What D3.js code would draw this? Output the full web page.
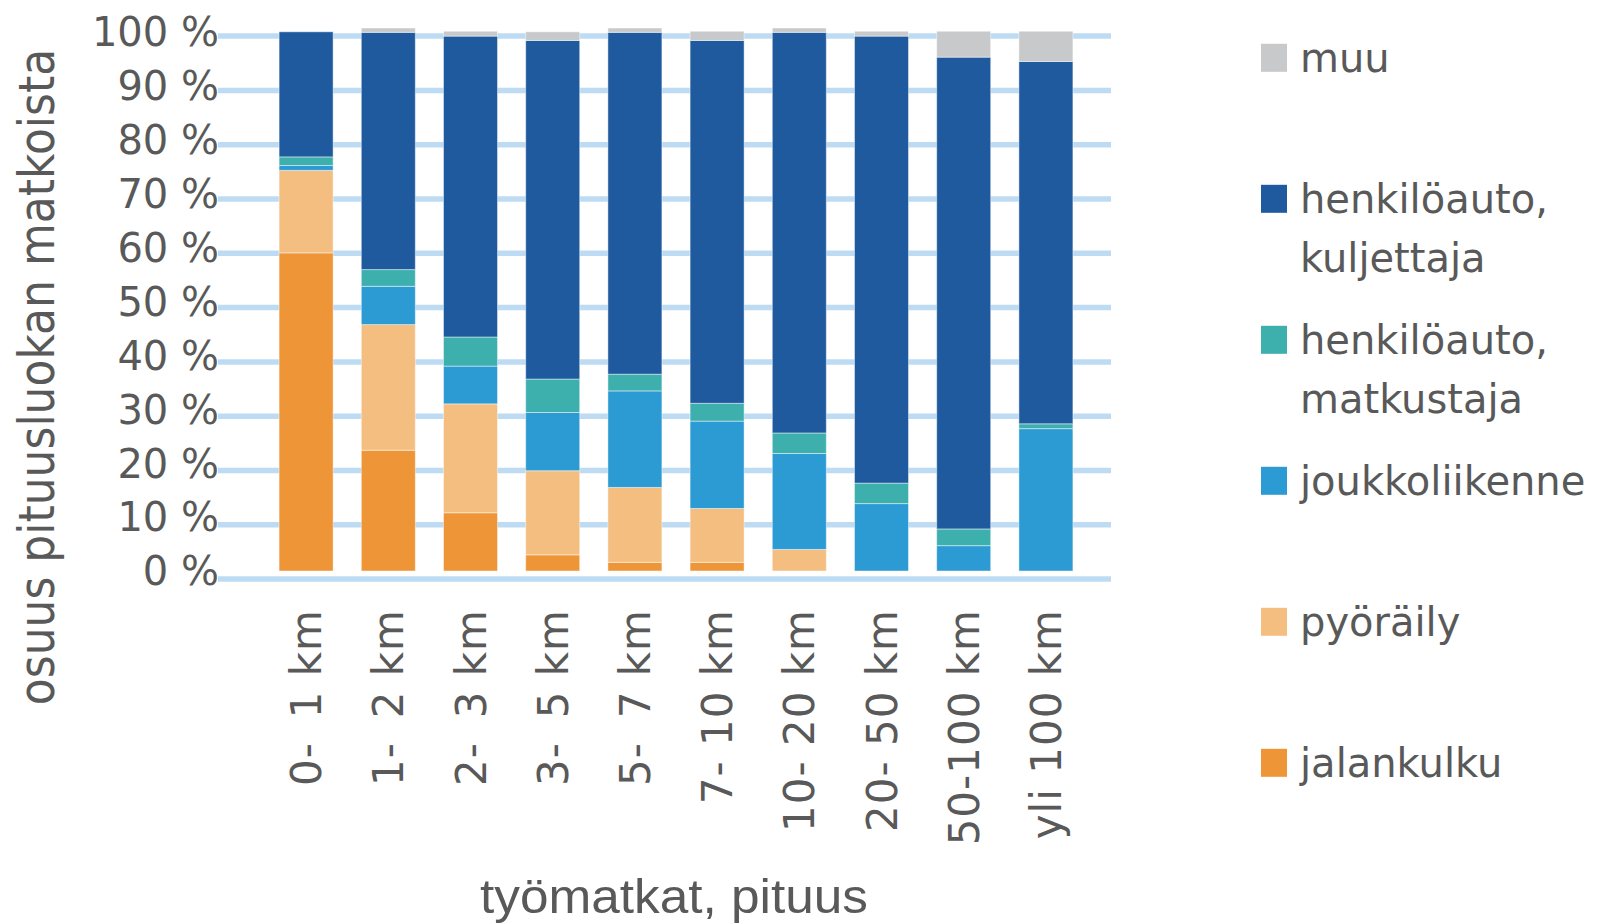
<!DOCTYPE html>
<html lang="fi">
<head>
<meta charset="UTF-8">
<title>Työmatkat pituusluokittain</title>
<script src="https://d3js.org/d3.v7.min.js"></script>
<style>
  body { margin: 0; background: #fff; }
  svg text { fill: #595959; font-family: "DejaVu Sans", sans-serif; }
</style>
</head>
<body>
<svg id="chart" width="1597" height="923"></svg>
<script>
// data (% of trips in each length class)
var categories = ["0-\u2009 1 km", "1-\u2009 2 km", "2-\u2009 3 km", "3-\u2009 5 km", "5-\u2009 7 km", "7- 10 km", "10- 20 km", "20- 50 km", "50-100 km", "yli 100 km"];
var keys = ["jalankulku", "pyoraily", "joukkoliikenne", "matkustaja", "kuljettaja", "muu"];
var jalankulku     = [59.0, 22.4, 10.8,  3.0,  1.6,  1.6,  0.0,  0.0,  0.0,  0.0];
var pyoraily       = [15.3, 23.3, 20.2, 15.6, 13.9, 10.0,  4.0,  0.0,  0.0,  0.0];
var joukkoliikenne = [ 0.9,  7.1,  7.0, 10.8, 17.9, 16.2, 17.8, 12.5,  4.7, 26.4];
var matkustaja     = [ 1.6,  3.1,  5.4,  6.2,  3.1,  3.3,  3.8,  3.8,  3.1,  0.9];
var kuljettaja     = [23.2, 44.0, 55.8, 62.8, 63.4, 67.3, 74.3, 82.9, 87.5, 67.2];
var muu            = [ 0.0,  0.8,  0.9,  1.6,  0.8,  1.7,  0.8,  0.9,  4.8,  5.6];
var yTicks = [0, 10, 20, 30, 40, 50, 60, 70, 80, 90, 100];

// legend, top to bottom
var legendItems = [
  { key: "muu", lines: ["muu"] },
  { key: "kuljettaja", lines: ["henkilöauto,", "kuljettaja"] },
  { key: "matkustaja", lines: ["henkilöauto,", "matkustaja"] },
  { key: "joukkoliikenne", lines: ["joukkoliikenne"] },
  { key: "pyoraily", lines: ["pyöräily"] },
  { key: "jalankulku", lines: ["jalankulku"] }
];

var colors = {
  jalankulku: "#EE9537",
  pyoraily: "#F4BE80",
  joukkoliikenne: "#2C9AD3",
  matkustaja: "#3DAFAD",
  kuljettaja: "#1F5A9F",
  muu: "#C8C9CB"
};

var svg = d3.select("#chart");

// table for the stack
var table = categories.map(function(c, i) {
  return {
    cat: c,
    jalankulku: jalankulku[i],
    pyoraily: pyoraily[i],
    joukkoliikenne: joukkoliikenne[i],
    matkustaja: matkustaja[i],
    kuljettaja: kuljettaja[i],
    muu: muu[i]
  };
});

var x = d3.scaleBand()
  .domain(categories)
  .range([265, 1087])
  .paddingInner(0.343)
  .paddingOuter(0.1715);

// bars and gridlines sit a few px apart in the original
var yBar = d3.scaleLinear().domain([0, 100]).range([571, 31.8]);
var yGrid = d3.scaleLinear().domain([0, 100]).range([578.6, 35.6]);

// gridlines
var grid = svg.append("g")
  .attr("transform", "translate(218,0)")
  .call(d3.axisLeft(yGrid).tickValues(yTicks).tickSize(-893).tickFormat(""));
grid.select(".domain").remove();
grid.selectAll("line").attr("stroke", "#BDDCF3").attr("stroke-width", 5.5);

// bars
var stacked = d3.stack().keys(keys)(table);

svg.append("g")
  .selectAll("g")
  .data(stacked)
  .enter()
  .append("g")
  .attr("fill", function(d) { return colors[d.key]; })
  .selectAll("rect")
  .data(function(d) { return d; })
  .enter()
  .append("rect")
  .attr("x", function(d) { return x(d.data.cat); })
  .attr("width", x.bandwidth())
  .attr("y", function(d) { return yBar(d[1]); })
  .attr("height", function(d) { return yBar(d[0]) - yBar(d[1]); })
  .attr("stroke", "#ffffff")
  .attr("stroke-opacity", 0.45)
  .attr("stroke-width", 1);

// y tick labels
svg.append("g")
  .selectAll("text")
  .data(yTicks)
  .enter()
  .append("text")
  .attr("x", 219)
  .attr("y", function(d) { return yBar(d); })
  .attr("dy", "0.36em")
  .attr("text-anchor", "end")
  .style("font-size", "40px")
  .text(function(d) { return d + " %"; });

// x tick labels, rotated
svg.append("g")
  .selectAll("text")
  .data(categories)
  .enter()
  .append("text")
  .attr("transform", function(d) {
    return "translate(" + (x(d) + x.bandwidth() / 2) + ",609) rotate(-90)";
  })
  .attr("dy", "0.36em")
  .attr("text-anchor", "end")
  .style("font-size", "42px")
  .style("letter-spacing", "1px")
  .text(function(d) { return d; });

// axis titles
svg.append("text")
  .attr("transform", "translate(54,377) rotate(-90) scale(1,1.15)")
  .attr("text-anchor", "middle")
  .style("font-size", "44px")
  .text("osuus pituusluokan matkoista");

svg.append("text")
  .attr("x", 674)
  .attr("y", 896)
  .attr("dy", "0.36em")
  .attr("text-anchor", "middle")
  .attr("textLength", 388)
  .attr("lengthAdjust", "spacingAndGlyphs")
  .style("font-family", "'Liberation Sans Narrow', 'Liberation Sans', sans-serif")
  .style("font-size", "48px")
  .text("työmatkat, pituus");

// legend
var legend = svg.append("g")
  .selectAll("g")
  .data(legendItems)
  .enter()
  .append("g")
  .attr("transform", function(d, i) { return "translate(1261," + (57.8 + i * 141) + ")"; });

legend.append("rect")
  .attr("y", -14)
  .attr("width", 26)
  .attr("height", 28)
  .attr("fill", function(d) { return colors[d.key]; });

legend.append("text")
  .attr("x", 39)
  .style("font-size", "40px")
  .selectAll("tspan")
  .data(function(d) { return d.lines; })
  .enter()
  .append("tspan")
  .attr("x", 39)
  .attr("y", function(d, i) { return i * 58.7; })
  .attr("dy", "0.36em")
  .text(function(d) { return d; });
</script>
</body>
</html>
